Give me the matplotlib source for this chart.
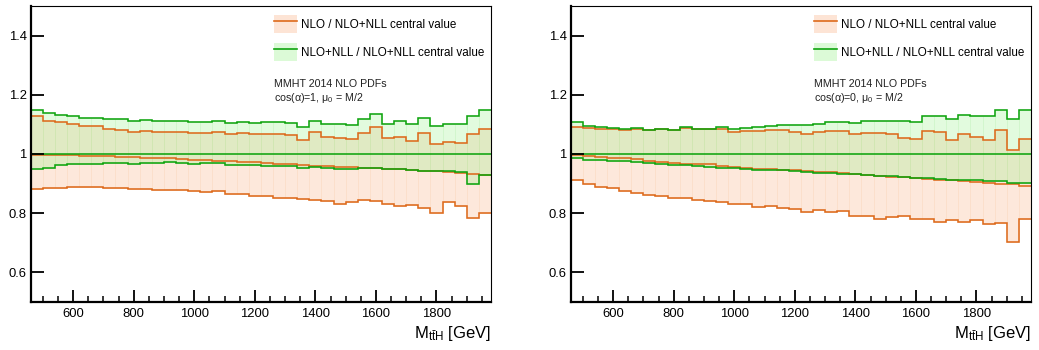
import matplotlib
matplotlib.use("Agg")
import matplotlib.pyplot as plt
import numpy as np
from matplotlib.patches import Patch
from matplotlib.lines import Line2D

plt.rcParams["font.family"] = ["Liberation Sans", "DejaVu Sans"]
plt.rcParams["mathtext.fontset"] = "custom"
plt.rcParams["mathtext.rm"] = "Liberation Sans"
plt.rcParams["mathtext.it"] = "Liberation Sans:italic"
plt.rcParams["mathtext.sf"] = "Liberation Sans"

# bins in M_ttH [GeV], 40 GeV wide
mass_edges = np.arange(460, 2000, 40)

# ---- cos(alpha)=1 ----
nlo_up_c1 = [1.127, 1.113, 1.108, 1.101, 1.095, 1.093, 1.085, 1.082, 1.076, 1.077,
             1.074, 1.074, 1.075, 1.070, 1.072, 1.076, 1.067, 1.070, 1.066, 1.068,
             1.068, 1.064, 1.047, 1.073, 1.056, 1.055, 1.052, 1.071, 1.090, 1.053,
             1.059, 1.044, 1.071, 1.034, 1.040, 1.036, 1.067, 1.085]
nlo_cen_c1 = [0.998, 0.997, 0.996, 0.995, 0.994, 0.993, 0.992, 0.991, 0.990, 0.988,
              0.986, 0.985, 0.983, 0.981, 0.979, 0.977, 0.975, 0.974, 0.972, 0.970,
              0.967, 0.965, 0.963, 0.961, 0.959, 0.957, 0.956, 0.954, 0.952, 0.949,
              0.948, 0.945, 0.943, 0.942, 0.938, 0.935, 0.932, 0.928]
nlo_lo_c1 = [0.881, 0.884, 0.886, 0.889, 0.888, 0.888, 0.886, 0.885, 0.883, 0.883,
             0.879, 0.880, 0.877, 0.875, 0.871, 0.875, 0.864, 0.865, 0.859, 0.859,
             0.852, 0.852, 0.848, 0.845, 0.840, 0.830, 0.838, 0.846, 0.840, 0.831,
             0.823, 0.827, 0.816, 0.801, 0.837, 0.823, 0.783, 0.801]
nll_up_c1 = [1.148, 1.137, 1.133, 1.130, 1.123, 1.121, 1.117, 1.117, 1.112, 1.114,
             1.112, 1.113, 1.112, 1.108, 1.109, 1.113, 1.105, 1.108, 1.105, 1.108,
             1.109, 1.104, 1.090, 1.113, 1.101, 1.100, 1.099, 1.117, 1.135, 1.103,
             1.110, 1.101, 1.120, 1.093, 1.103, 1.103, 1.130, 1.148]
nll_lo_c1 = [0.950, 0.953, 0.963, 0.966, 0.967, 0.967, 0.969, 0.969, 0.967, 0.969,
             0.969, 0.972, 0.968, 0.967, 0.968, 0.969, 0.963, 0.964, 0.963, 0.961,
             0.958, 0.959, 0.954, 0.956, 0.954, 0.951, 0.950, 0.954, 0.952, 0.949,
             0.948, 0.947, 0.943, 0.944, 0.941, 0.938, 0.900, 0.930]

# ---- cos(alpha)=0 ----
nlo_up_c0 = [1.090, 1.087, 1.086, 1.085, 1.082, 1.085, 1.080, 1.084, 1.080, 1.088,
             1.083, 1.084, 1.084, 1.075, 1.079, 1.079, 1.080, 1.080, 1.074, 1.067,
             1.073, 1.079, 1.079, 1.067, 1.072, 1.072, 1.068, 1.054, 1.049, 1.079,
             1.074, 1.048, 1.066, 1.057, 1.046, 1.080, 1.012, 1.050]
nlo_cen_c0 = [0.998, 0.994, 0.990, 0.988, 0.985, 0.982, 0.977, 0.974, 0.971, 0.967,
              0.966, 0.965, 0.960, 0.956, 0.953, 0.950, 0.949, 0.947, 0.945, 0.943,
              0.940, 0.938, 0.935, 0.932, 0.929, 0.926, 0.923, 0.921, 0.918, 0.916,
              0.913, 0.911, 0.909, 0.906, 0.902, 0.900, 0.898, 0.892]
nlo_lo_c0 = [0.913, 0.899, 0.888, 0.884, 0.874, 0.868, 0.862, 0.858, 0.853, 0.850,
             0.845, 0.841, 0.838, 0.830, 0.830, 0.821, 0.826, 0.817, 0.813, 0.803,
             0.810, 0.803, 0.809, 0.789, 0.791, 0.782, 0.787, 0.792, 0.779, 0.779,
             0.771, 0.776, 0.770, 0.776, 0.765, 0.767, 0.704, 0.780]
nll_up_c0 = [1.107, 1.095, 1.091, 1.088, 1.083, 1.088, 1.082, 1.086, 1.082, 1.091,
             1.086, 1.086, 1.091, 1.084, 1.089, 1.091, 1.095, 1.099, 1.098, 1.097,
             1.101, 1.107, 1.108, 1.104, 1.110, 1.113, 1.113, 1.110, 1.108, 1.130,
             1.129, 1.119, 1.132, 1.128, 1.128, 1.150, 1.118, 1.147]
nll_lo_c0 = [0.988, 0.981, 0.980, 0.977, 0.975, 0.973, 0.970, 0.967, 0.964, 0.962,
             0.958, 0.956, 0.954, 0.952, 0.949, 0.946, 0.946, 0.945, 0.944, 0.940,
             0.937, 0.936, 0.934, 0.931, 0.929, 0.927, 0.925, 0.922, 0.920, 0.918,
             0.916, 0.913, 0.911, 0.911, 0.910, 0.909, 0.902, 0.903]

# NLO+NLL central value divided by itself
nll_cen = [1.0] * 38

scenario_labels = ["cos($\\mathrm{\u03b1}$)=1, $\\mathrm{\u03bc_{0}}$ = M/2",
                   "cos($\\mathrm{\u03b1}$)=0, $\\mathrm{\u03bc_{0}}$ = M/2"]

orange = "#dd6a1c"
green = "#0fa40f"
orange_fill = "#fbb488"
green_fill = "#8cf07c"

fig = plt.figure(figsize=(10.39, 3.5), dpi=100)
ax_l = fig.add_axes([30.7 / 1039, 1 - 302 / 350, 460.3 / 1039, 296 / 350])
ax_r = fig.add_axes([570.7 / 1039, 1 - 302 / 350, 460.3 / 1039, 296 / 350])

panels = [
    (ax_l, nlo_up_c1, nlo_cen_c1, nlo_lo_c1, nll_up_c1, nll_lo_c1, scenario_labels[0]),
    (ax_r, nlo_up_c0, nlo_cen_c0, nlo_lo_c0, nll_up_c0, nll_lo_c0, scenario_labels[1]),
]

for ax, nlo_up, nlo_cen, nlo_lo, nll_up, nll_lo, lab in panels:
    nlo_up = np.array(nlo_up)
    nlo_lo = np.array(nlo_lo)
    nll_up = np.array(nll_up)
    nll_lo = np.array(nll_lo)
    left = mass_edges[:-1]

    # bands as histogram bars
    ax.bar(left, nlo_up - nlo_lo, bottom=nlo_lo, width=40, align="edge",
           color=orange_fill, alpha=0.3, edgecolor="#fbd2b4", linewidth=0.5)
    ax.bar(left, nll_up - nll_lo, bottom=nll_lo, width=40, align="edge",
           color=green_fill, alpha=0.25, edgecolor="#b5f0ac", linewidth=0.5)

    kw = dict(baseline=None, lw=1.15)
    ax.stairs(nlo_up, mass_edges, color=orange, **kw)
    ax.stairs(nlo_lo, mass_edges, color=orange, **kw)
    ax.stairs(nlo_cen, mass_edges, color=orange, **kw)
    ax.stairs(nll_up, mass_edges, color=green, **kw)
    ax.stairs(nll_lo, mass_edges, color=green, **kw)
    ax.stairs(nll_cen, mass_edges, color=green, **kw)

    ax.set_xlim(mass_edges[0], mass_edges[-1])
    ax.set_ylim(0.5, 1.5)
    ax.set_yticks([0.6, 0.8, 1.0, 1.2, 1.4], ["0.6", "0.8", "1", "1.2", "1.4"])
    ax.set_xticks(np.arange(600, 1900, 200))
    ax.set_xticks(np.arange(500, 1980, 50), minor=True)
    ax.tick_params(axis="both", which="major", direction="in", length=9,
                   width=1.3, labelsize=9.4, pad=3)
    ax.tick_params(axis="x", which="minor", direction="in", length=4.6, width=1.1)
    ax.tick_params(axis="x", which="major", pad=4)
    for s in ["left", "bottom"]:
        ax.spines[s].set_linewidth(1.6)
    for s in ["top", "right"]:
        ax.spines[s].set_linewidth(0.8)

    ax.set_xlabel(r"$\mathrm{M_{t\bar{t}H}}$ [GeV]", fontsize=12, loc="right",
                  labelpad=3)

    h1 = (Patch(facecolor=orange_fill, alpha=0.35), Line2D([], [], color=orange, lw=1.2))
    h2 = (Patch(facecolor=green_fill, alpha=0.3), Line2D([], [], color=green, lw=1.2))
    ax.legend([h1, h2], ["NLO / NLO+NLL central value",
                         "NLO+NLL / NLO+NLL central value"],
              loc="upper left", bbox_to_anchor=(0.5286, 0.9696), frameon=False,
              fontsize=8.4, handlelength=1.97, handleheight=2.05,
              handletextpad=0.35, labelspacing=0.8, borderpad=0, borderaxespad=0)

    ax.text(0.5286, 0.7365, "MMHT 2014 NLO PDFs", transform=ax.transAxes,
            fontsize=7.7, va="center", ha="left", color="#222222")
    ax.text(0.5286, 0.689, lab, transform=ax.transAxes,
            fontsize=7.7, va="center", ha="left", color="#222222")

fig.savefig("out.png", dpi=100)
